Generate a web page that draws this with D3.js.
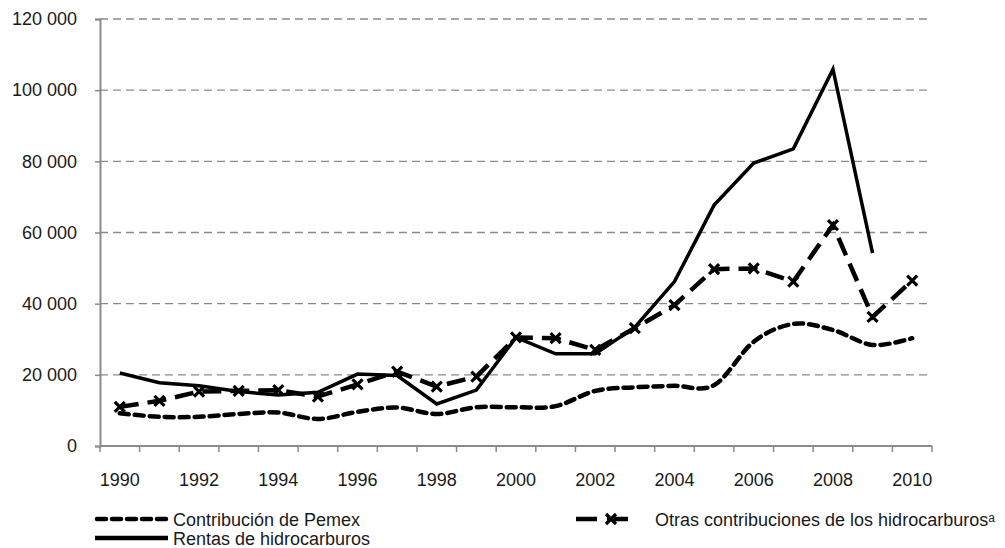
<!DOCTYPE html>
<html><head><meta charset="utf-8">
<script src="https://cdn.jsdelivr.net/npm/d3@7"></script>
<style>
body{margin:0;background:#fff;overflow:hidden;}
text{font-family:"Liberation Sans",Arial,sans-serif;fill:#1a1a1a;}
</style></head>
<body><svg id="c" width="1005" height="548"></svg>
<script>
const years = [1990,1991,1992,1993,1994,1995,1996,1997,1998,1999,2000,2001,2002,2003,2004,2005,2006,2007,2008,2009,2010];
const pemex = [9200,8200,8200,9000,9400,7600,9600,10800,9000,10900,10900,11200,15500,16500,16900,17100,29300,34300,32600,28400,30300];
const otras = [11000,12700,15300,15500,15700,13900,17300,20900,16700,19500,30500,30300,27000,33100,39600,49700,49900,46200,62100,36300,46500];
const rentas = [20500,17800,16900,15300,14300,15100,20200,19800,11800,15700,30500,25900,25900,33400,46200,67700,79500,83500,105900,54200,null];
const yTicks = [0,20000,40000,60000,80000,100000,120000];
const xLabelYears = [1990,1992,1994,1996,1998,2000,2002,2004,2006,2008,2010];
const seriesNames = ["Contribución de Pemex","Otras contribuciones de los hidrocarburos","Rentas de hidrocarburos"];

const FS = 18;
const svg = d3.select("#c");
const L=100, R=932, T=19, B=446;
const x = d3.scaleBand().domain(years).range([L,R]);
const y = d3.scaleLinear().domain([0,120000]).range([B,T]);
const cx = d => x(d)+x.bandwidth()/2;
const fmt = v => d3.format(",")(v).replace(/,/g," ");

svg.append("g").selectAll("line").data(yTicks.filter(d=>d>0)).join("line")
  .attr("x1",L).attr("x2",R).attr("y1",d=>y(d)).attr("y2",d=>y(d))
  .attr("stroke","#8a8a8a").attr("stroke-width",1.3).attr("stroke-dasharray","8,5");

const ya = svg.append("g").attr("transform",`translate(${L},0)`)
  .call(d3.axisLeft(y).tickValues(yTicks).tickFormat(fmt).tickSize(5).tickPadding(18));
ya.select(".domain").attr("stroke","#8a8a8a").attr("stroke-width",2);
ya.selectAll(".tick line").attr("stroke","#8a8a8a").attr("stroke-width",1.5);
ya.selectAll("text").attr("font-size",FS).attr("fill","#1a1a1a").attr("font-family","Liberation Sans, Arial, sans-serif");

const xg = svg.append("g").attr("transform",`translate(0,${B})`);
xg.append("line").attr("x1",L).attr("x2",R).attr("stroke","#8a8a8a").attr("stroke-width",2);
const bounds = years.map(d=>x(d)).concat([R]);
xg.selectAll("line.tk").data(bounds).join("line").attr("class","tk")
  .attr("x1",d=>d).attr("x2",d=>d).attr("y1",0).attr("y2",6)
  .attr("stroke","#8a8a8a").attr("stroke-width",1.5);
xg.selectAll("text").data(xLabelYears).join("text")
  .attr("x",d=>cx(d)).attr("y",40).attr("text-anchor","middle").attr("font-size",FS).text(d=>d);

const linePemex = d3.line().defined(d=>d[1]!=null).x(d=>cx(d[0])).y(d=>y(d[1])).curve(d3.curveCatmullRom.alpha(0));
const lineStraight = d3.line().defined(d=>d[1]!=null).x(d=>cx(d[0])).y(d=>y(d[1]));
const zip = arr => years.map((yy,i)=>[yy,arr[i]]);

svg.append("path").attr("d",linePemex(zip(pemex))).attr("fill","none").attr("stroke","#000")
  .attr("stroke-width",4.5).attr("stroke-dasharray","9,6").attr("stroke-linecap","round");
svg.append("path").attr("d",lineStraight(zip(otras))).attr("fill","none").attr("stroke","#000")
  .attr("stroke-width",4.5).attr("stroke-dasharray","19,9");
svg.append("path").attr("d",lineStraight(zip(rentas))).attr("fill","none").attr("stroke","#000")
  .attr("stroke-width",3.5).attr("stroke-linejoin","miter");

const mk = (g, px, py, s) => {
  g.append("path").attr("d",`M${px-s},${py-s}L${px+s},${py+s}M${px-s},${py+s}L${px+s},${py-s}`)
    .attr("stroke","#000").attr("stroke-width",3.2).attr("fill","none");
};
const mg = svg.append("g");
zip(otras).forEach(d=>mk(mg,cx(d[0]),y(d[1]),5));

const lg = svg.append("g");
lg.append("line").attr("x1",97).attr("x2",168).attr("y1",519).attr("y2",519)
  .attr("stroke","#000").attr("stroke-width",4.5).attr("stroke-dasharray","9,6").attr("stroke-linecap","round");
lg.append("text").attr("x",173).attr("y",526).attr("font-size",FS).text(seriesNames[0]);
lg.append("line").attr("x1",95).attr("x2",168).attr("y1",538).attr("y2",538)
  .attr("stroke","#000").attr("stroke-width",4.5);
lg.append("text").attr("x",173).attr("y",545).attr("font-size",FS).text(seriesNames[2]);
lg.append("line").attr("x1",576).attr("x2",633).attr("y1",519).attr("y2",519)
  .attr("stroke","#000").attr("stroke-width",4.5).attr("stroke-dasharray","21,10");
mk(lg,611,519,5);
const t3 = lg.append("text").attr("x",655).attr("y",526).attr("font-size",FS).text(seriesNames[1]);
t3.append("tspan").attr("font-size",12).attr("dy",-4).text("a");
</script></body></html>
